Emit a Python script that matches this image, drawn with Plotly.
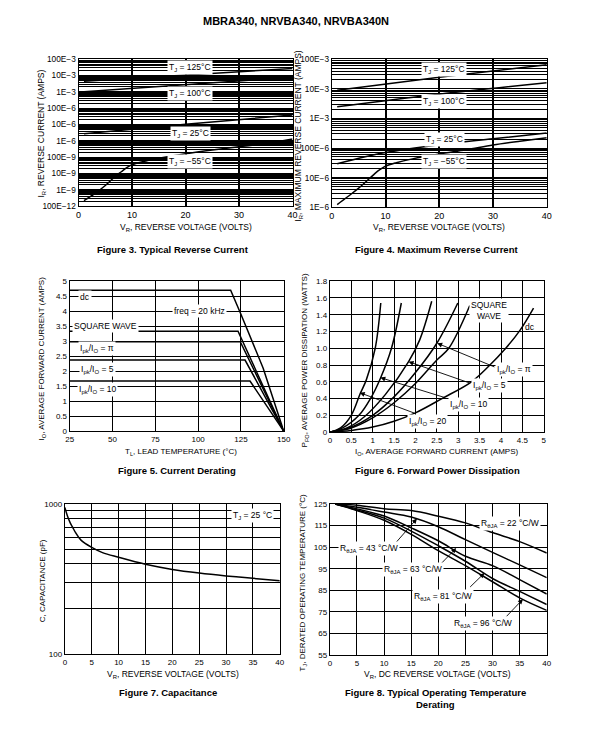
import math
import plotly.graph_objects as go

W, H = 594, 735
FONT = "Liberation Sans, Arial, Helvetica, sans-serif"

# ---------------- Figure 3: Typical Reverse Current ----------------
f3_v_125 = [1, 20, 40]
f3_i_125 = [4.5e-3, 1.14e-2, 2.74e-2]
f3_v_100 = [1, 20, 40]
f3_i_100 = [1.02e-3, 2.8e-3, 7.9e-3]
f3_v_25 = [1, 20, 40]
f3_i_25 = [2.77e-6, 1.06e-5, 3.85e-5]
f3_v_m55 = [1, 3, 5, 7, 8, 9, 10, 12, 15, 20, 25, 30, 35, 40]
f3_i_m55 = [2.2e-10, 5.9e-10, 1.87e-9, 7.4e-9, 1.29e-8, 2.3e-8, 3.5e-8,
            5.4e-8, 8.7e-8, 1.66e-7, 2.8e-7, 4.4e-7, 6.9e-7, 1.32e-6]
f3_tickvals = [1e-1, 1e-2, 1e-3, 1e-4, 1e-5, 1e-6, 1e-7, 1e-8, 1e-9, 1e-10]
f3_ticktext = ["100E−3", "10E−3", "1E−3", "100E−6", "10E−6", "1E−6",
               "100E−9", "10E−9", "1E−9", "100E−12"]

# ---------------- Figure 4: Maximum Reverse Current ----------------
f4_v_125 = [1, 20, 40]
f4_i_125 = [8.9e-3, 2.46e-2, 6.5e-2]
f4_v_100 = [1, 20, 40]
f4_i_100 = [2.5e-3, 6.6e-3, 1.6e-2]
f4_v_25 = [1, 10, 20, 30, 40]
f4_i_25 = [2.95e-5, 7.0e-5, 1.3e-4, 2.05e-4, 3.2e-4]
f4_v_m55 = [1, 3, 5, 7, 8, 9, 10, 12, 15, 20, 25, 30, 35, 40]
f4_i_m55 = [1.23e-6, 2.3e-6, 4.4e-6, 9.3e-6, 1.37e-5, 1.9e-5, 2.45e-5,
            3.2e-5, 4.3e-5, 6.3e-5, 8.7e-5, 1.26e-4, 1.7e-4, 2.24e-4]
f4_tickvals = [1e-1, 1e-2, 1e-3, 1e-4, 1e-5, 1e-6]
f4_ticktext = ["100E−3", "10E−3", "1E−3", "100E−6", "10E−6", "1E−6"]

# ---------------- Figure 5: Current Derating ----------------
f5_t_dc = [25, 119, 125, 138, 150]
f5_i_dc = [4.7, 4.7, 3.9, 2.1, 0]
f5_t_sq = [25, 123.3, 150]
f5_i_sq = [3.33, 3.33, 0]
f5_t_pi = [25, 124.6, 150]
f5_i_pi = [2.98, 2.98, 0]
f5_t_5 = [25, 127.4, 150]
f5_i_5 = [2.37, 2.37, 0]
f5_t_10 = [25, 130.3, 150]
f5_i_10 = [1.67, 1.67, 0]
f5_xticks = [25, 50, 75, 100, 125, 150]
f5_yticks = [0, 0.5, 1, 1.5, 2, 2.5, 3, 3.5, 4, 4.5, 5]
f5_yticktext = ["0", "0.5", "1", "1.5", "2", "2.5", "3", "3.5", "4", "4.5", "5"]

# ---------------- Figure 6: Forward Power Dissipation ----------------
f6_i_20 = [0, 0.25, 0.5, 0.71, 0.85, 1.06, 1.19]
f6_p_20 = [0, 0.05, 0.2, 0.46, 0.62, 1.0, 1.54]
f6_i_10 = [0, 0.3, 0.68, 0.95, 1.18, 1.44, 1.67]
f6_p_10 = [0, 0.05, 0.2, 0.4, 0.64, 1.0, 1.54]
f6_i_5 = [0, 0.4, 0.8, 1.3, 1.84, 2.1, 2.38]
f6_p_5 = [0, 0.05, 0.18, 0.45, 0.84, 1.1, 1.56]
f6_i_pi = [0, 0.5, 1.0, 1.5, 2.0, 2.5, 2.99]
f6_p_pi = [0, 0.06, 0.2, 0.42, 0.71, 1.06, 1.54]
f6_i_sq = [0, 0.5, 1.0, 1.5, 2.0, 2.5, 2.78, 3.27]
f6_p_sq = [0, 0.05, 0.17, 0.35, 0.58, 0.86, 1.0, 1.51]
f6_i_dc = [0, 0.5, 1.0, 1.5, 2.0, 2.62, 3.31, 3.7, 4.11, 4.45, 4.76]
f6_p_dc = [0, 0.02, 0.06, 0.13, 0.23, 0.4, 0.6, 0.78, 1.0, 1.22, 1.48]
f6_xticks = [0, 0.5, 1, 1.5, 2, 2.5, 3, 3.5, 4, 4.5, 5]
f6_xticktext = ["0", "0.5", "1", "1.5", "2", "2.5", "3", "3.5", "4", "4.5", "5"]
f6_yticks = [0, 0.2, 0.4, 0.6, 0.8, 1.0, 1.2, 1.4, 1.6, 1.8]
f6_yticktext = ["0", "0.2", "0.4", "0.6", "0.8", "1.0", "1.2", "1.4", "1.6", "1.8"]

# ---------------- Figure 7: Capacitance ----------------
f7_v = [0, 0.5, 1, 1.5, 2, 3, 5, 7, 10, 15, 20, 25, 30, 35, 40]
f7_c = [950, 830, 750, 695, 645, 575, 514, 475, 442, 397, 367, 347, 332, 320, 308]

# ---------------- Figure 8: Operating Temperature Derating ----------------
f8_v = [1, 5, 10, 15, 20, 25, 30, 35, 40]
f8_t_22 = [125, 124.5, 122.9, 122.0, 119.4, 116.3, 111.8, 107.6, 102.3]
f8_t_43 = [125, 123.5, 121.3, 119.0, 114.5, 108.5, 102.6, 96.8, 90.9]
f8_t_63 = [125, 122.8, 119.5, 114.0, 108.0, 100.8, 96.5, 90.0, 83.3]
f8_t_81 = [125, 122.3, 118.5, 112.5, 105.7, 98.5, 90.5, 84.5, 78.4]
f8_t_96 = [125, 122.0, 117.5, 111.0, 103.4, 96.5, 89.0, 81.5, 75.7]


def dom_x(a, b):
    return [a / W, b / W]


def dom_y(top, bottom):
    return [1 - bottom / H, 1 - top / H]


def axis(domain, anchor, tsize=8, **kw):
    d = dict(domain=domain, anchor=anchor, showline=True, mirror=True,
             linecolor="black", linewidth=1.2, showgrid=True,
             gridcolor="black", gridwidth=1.1, zeroline=False, ticks="",
             tickfont=dict(size=tsize, color="black", family=FONT),
             fixedrange=True)
    d.update(kw)
    return d


def log_minor(lo, hi):
    vals = []
    for e in range(lo, hi):
        for m in range(2, 10):
            vals.append(m * 10 ** e)
    return vals


fig = go.Figure()


def line(xs, ys, n, shape="linear", width=1.5):
    fig.add_trace(go.Scatter(x=xs, y=ys, mode="lines", xaxis="x%d" % n if n > 1 else "x",
                             yaxis="y%d" % n if n > 1 else "y",
                             line=dict(color="black", width=width, shape=shape),
                             hoverinfo="skip", showlegend=False))


# traces
line(f3_v_125, f3_i_125, 1)
line(f3_v_100, f3_i_100, 1)
line(f3_v_25, f3_i_25, 1, "spline")
line(f3_v_m55, f3_i_m55, 1, "spline")

line(f4_v_125, f4_i_125, 2, "spline")
line(f4_v_100, f4_i_100, 2, "spline")
line(f4_v_25, f4_i_25, 2, "spline")
line(f4_v_m55, f4_i_m55, 2, "spline")

line(f5_t_dc, f5_i_dc, 3)
line(f5_t_sq, f5_i_sq, 3)
line(f5_t_pi, f5_i_pi, 3)
line(f5_t_5, f5_i_5, 3)
line(f5_t_10, f5_i_10, 3)

for xs, ys in [(f6_i_20, f6_p_20), (f6_i_10, f6_p_10), (f6_i_5, f6_p_5),
               (f6_i_pi, f6_p_pi), (f6_i_sq, f6_p_sq), (f6_i_dc, f6_p_dc)]:
    line(xs, ys, 4, "spline")

line(f7_v, f7_c, 5, "spline")

for ts in [f8_t_22, f8_t_43, f8_t_63, f8_t_81, f8_t_96]:
    line(f8_v, ts, 6, "spline")

layout = dict(
    width=W, height=H, margin=dict(l=0, r=0, t=0, b=0),
    paper_bgcolor="white", plot_bgcolor="white", showlegend=False,
    font=dict(family=FONT, color="black"),
)

# Fig 3 axes
layout["xaxis"] = axis(dom_x(76, 294), "y", tsize=9, range=[0, 40],
                       tickvals=[0, 10, 20, 30, 40], gridwidth=1.5)
layout["yaxis"] = axis(dom_y(55, 204), "x", tsize=8.3, type="log", range=[-10, -1],
                       tickmode="array", tickvals=f3_tickvals, ticktext=f3_ticktext,
                       minor=dict(tickmode="array", tickvals=log_minor(-10, -1),
                                  showgrid=True, gridcolor="black", gridwidth=1))
# Fig 4 axes
layout["xaxis2"] = axis(dom_x(334, 553), "y2", tsize=9, range=[0, 40],
                        tickvals=[0, 10, 20, 30, 40], gridwidth=1.5)
layout["yaxis2"] = axis(dom_y(55, 205), "x2", tsize=8.3, type="log", range=[-6, -1],
                        tickmode="array", tickvals=f4_tickvals, ticktext=f4_ticktext,
                        minor=dict(tickmode="array", tickvals=log_minor(-6, -1),
                                   showgrid=True, gridcolor="black", gridwidth=1))
# Fig 5 axes
layout["xaxis3"] = axis(dom_x(67, 285), "y3", range=[25, 150], tickvals=f5_xticks)
layout["yaxis3"] = axis(dom_y(280, 432), "x3", range=[0, 5], tickvals=f5_yticks,
                        ticktext=f5_yticktext)
# Fig 6 axes
layout["xaxis4"] = axis(dom_x(332, 550), "y4", range=[0, 5], tickvals=f6_xticks,
                        ticktext=f6_xticktext)
layout["yaxis4"] = axis(dom_y(280, 433), "x4", range=[0, 1.8], tickvals=f6_yticks,
                        ticktext=f6_yticktext)
# Fig 7 axes
layout["xaxis5"] = axis(dom_x(62, 281), "y5", range=[0, 40],
                        tickvals=[0, 5, 10, 15, 20, 25, 30, 35, 40])
layout["yaxis5"] = axis(dom_y(506, 658), "x5", type="log", range=[2, 3],
                        tickmode="array", tickvals=[100, 1000], ticktext=["100", "1000"],
                        minor=dict(tickmode="array", tickvals=log_minor(2, 3),
                                   showgrid=True, gridcolor="black", gridwidth=1.1))
# Fig 8 axes
layout["xaxis6"] = axis(dom_x(332, 553), "y6", range=[0, 40],
                        tickvals=[0, 5, 10, 15, 20, 25, 30, 35, 40])
layout["yaxis6"] = axis(dom_y(506, 659), "x6", range=[55, 125],
                        tickvals=[55, 65, 75, 85, 95, 105, 115, 125])

ann = []


def ptext(text, px, py, size=8.5, angle=0, bold=False):
    if bold:
        text = "<b>" + text + "</b>"
    ann.append(dict(text=text, x=px / W, y=1 - py / H, xref="paper", yref="paper",
                    showarrow=False, textangle=angle, xanchor="center", yanchor="middle",
                    font=dict(size=size, color="black", family=FONT)))


def dlabel(text, x, y, n, size=8.5, bg=True):
    ann.append(dict(text=text, x=x, y=y, xref="x%d" % n if n > 1 else "x",
                    yref="y%d" % n if n > 1 else "y", showarrow=False,
                    xanchor="center", yanchor="middle",
                    bgcolor="white" if bg else "rgba(0,0,0,0)", borderpad=1,
                    font=dict(size=size, color="black", family=FONT)))


def darrow(x, y, ax, ay, n):
    xr = "x%d" % n if n > 1 else "x"
    yr = "y%d" % n if n > 1 else "y"
    ann.append(dict(text="", x=x, y=y, ax=ax, ay=ay, xref=xr, yref=yr, axref=xr,
                    ayref=yr, showarrow=True, arrowhead=2, arrowsize=1.1,
                    arrowwidth=0.9, arrowcolor="black", standoff=0))


# title
ptext("MBRA340, NRVBA340, NRVBA340N", 297, 16.5, size=11, bold=True)

# Fig 3 texts
ptext("I<sub>R</sub>, REVERSE CURRENT (AMPS)", 38, 130, angle=-90)
ptext("V<sub>R</sub>, REVERSE VOLTAGE (VOLTS)", 185, 226)
ptext("Figure 3. Typical Reverse Current", 172.5, 247.5, size=9.5, bold=True)
dlabel("T<sub>J</sub> = 125°C", 20.9, -1.5, 1)
dlabel("T<sub>J</sub> = 100°C", 20.9, -3.07, 1)
dlabel("T<sub>J</sub> = 25°C", 20.9, -5.53, 1)
dlabel("T<sub>J</sub> = −55°C", 20.9, -7.28, 1)

# Fig 4 texts
ptext("I<sub>R</sub>, MAXIMUM REVERSE CURRENT (AMPS)", 300, 132, angle=-90)
ptext("V<sub>R</sub>, REVERSE VOLTAGE (VOLTS)", 443.5, 226)
ptext("Figure 4. Maximum Reverse Current", 441, 247.5, size=9.5, bold=True)
dlabel("T<sub>J</sub> = 125°C", 20.9, -1.36, 2)
dlabel("T<sub>J</sub> = 100°C", 20.9, -2.42, 2)
dlabel("T<sub>J</sub> = 25°C", 20.9, -3.71, 2)
dlabel("T<sub>J</sub> = −55°C", 20.9, -4.47, 2)

# Fig 5 texts
ptext("I<sub>O</sub>, AVERAGE FORWARD CURRENT (AMPS)", 39, 358, size=8, angle=-90)
ptext("T<sub>L</sub>, LEAD TEMPERATURE (°C)", 180, 453, size=8)
ptext("Figure 5. Current Derating", 176, 471.5, size=9.5, bold=True)
dlabel("dc", 33.8, 4.47, 3)
dlabel("freq = 20 kHz", 100.7, 4.0, 3)
dlabel("SQUARE WAVE", 46, 3.5, 3)
dlabel("I<sub>pk</sub>/I<sub>O</sub> = π", 41, 2.75, 3)
dlabel("I<sub>pk</sub>/I<sub>O</sub> = 5", 41.4, 2.05, 3)
dlabel("I<sub>pk</sub>/I<sub>O</sub> = 10", 41.5, 1.38, 3)

# Fig 6 texts
ptext("P<sub>FO</sub>, AVERAGE POWER DISSIPATION (WATTS)", 307, 360, size=8, angle=-90)
ptext("I<sub>O</sub>, AVERAGE FORWARD CURRENT (AMPS)", 441, 453, size=8)
ptext("Figure 6. Forward Power Dissipation", 441.5, 471.5, size=9.5, bold=True)
darrow(2.51, 1.06, 3.88, 0.77, 4)
darrow(1.84, 0.84, 3.30, 0.58, 4)
darrow(1.18, 0.65, 2.70, 0.41, 4)
darrow(0.70, 0.47, 2.01, 0.22, 4)
dlabel("I<sub>pk</sub>/I<sub>O</sub> = π", 4.3, 0.745, 4)
dlabel("I<sub>pk</sub>/I<sub>O</sub> = 5", 3.73, 0.55, 4)
dlabel("I<sub>pk</sub>/I<sub>O</sub> = 10", 3.23, 0.33, 4)
dlabel("I<sub>pk</sub>/I<sub>O</sub> = 20", 2.28, 0.126, 4)
dlabel("SQUARE<br>WAVE", 3.73, 1.45, 4)
dlabel("dc", 4.68, 1.25, 4, bg=False)

# Fig 7 texts
ptext("C, CAPACITANCE (pF)", 39, 584, size=8, angle=-90)
ptext("V<sub>R</sub>, REVERSE VOLTAGE (VOLTS)", 172, 679, size=8.5)
ptext("Figure 7. Capacitance", 167.5, 696.5, size=9.5, bold=True)
dlabel("T<sub>J</sub> = 25 °C", 35, math.log10(845), 5)

# Fig 8 texts
ptext("T<sub>J</sub>, DERATED OPERATING TEMPERATURE (°C)", 305, 586, size=8, angle=-90)
ptext("V<sub>R</sub>, DC REVERSE VOLTAGE (VOLTS)", 442, 679, size=8.5)
ptext("Figure 8. Typical Operating Temperature", 440, 696.5, size=9.5, bold=True)
ptext("Derating", 440, 709.5, size=9.5, bold=True)
darrow(16.06, 118.3, 11.4, 104.9, 6)
darrow(23.3, 104.6, 19.9, 95.8, 6)
darrow(28.5, 93.0, 25.6, 85.9, 6)
darrow(35.6, 80.9, 32.3, 72.2, 6)
dlabel("R<sub>θJA</sub> = 22 °C/W", 33.2, 115.8, 6)
dlabel("R<sub>θJA</sub> = 43 °C/W", 7.15, 104.5, 6)
dlabel("R<sub>θJA</sub> = 63 °C/W", 15.3, 94.5, 6)
dlabel("R<sub>θJA</sub> = 81 °C/W", 20.8, 82.0, 6)
dlabel("R<sub>θJA</sub> = 96 °C/W", 28.2, 69.4, 6)

layout["annotations"] = ann
fig.update_layout(**layout)
fig.write_html(
    "out.html",
    config={"displayModeBar": False},
    post_script="document.body.style.margin='0';document.body.style.padding='0';"
                "document.documentElement.style.overflow='hidden';",
)
